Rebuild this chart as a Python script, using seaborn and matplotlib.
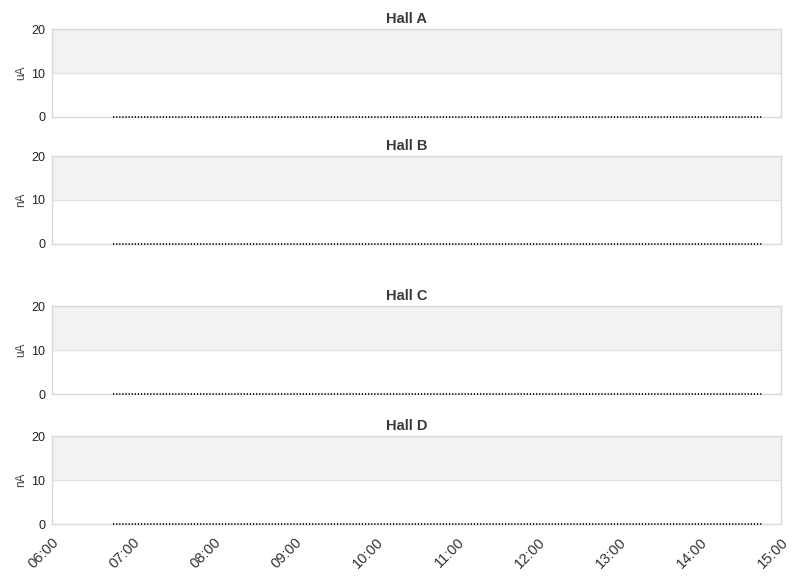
import matplotlib
matplotlib.use('Agg')
import matplotlib.pyplot as plt
import matplotlib.dates as mdates
import seaborn as sns
import pandas as pd

# Datos
halls = ['Hall A', 'Hall B', 'Hall C', 'Hall D']
units = ['uA', 'nA', 'uA', 'nA']
t_start = '2024-01-01 06:45'
t_end = '2024-01-01 14:46'
times = pd.date_range(t_start, t_end, freq='1min')
current = [0] * len(times)
y_ticks = [0, 10, 20]
x_min = pd.Timestamp('2024-01-01 06:00')
x_max = pd.Timestamp('2024-01-01 15:00')

sns.set_style('white')
plt.rcParams['font.family'] = ['Liberation Sans', 'DejaVu Sans']

fig = plt.figure(figsize=(8.11, 5.78), dpi=100)
bottoms = [0.7976, 0.5779, 0.3183, 0.0934]
df = pd.DataFrame({'time': times, 'value': current})

for i, (hall, unit) in enumerate(zip(halls, units)):
    ax = fig.add_axes([0.0641, bottoms[i], 0.899, 0.1522])
    ax.axhspan(10, 20, color='#f2f2f2', zorder=0)
    ax.axhline(10, color='#e0e0e0', lw=0.8, zorder=1)
    sns.lineplot(data=df, x='time', y='value', ax=ax, color='#1a1a1a',
                 lw=1.4, dashes=False, zorder=3, clip_on=False)
    ax.lines[-1].set_dashes((0.6, 1.0))
    ax.set_xlim(x_min, x_max)
    ax.set_ylim(0, 20)
    ax.set_yticks(y_ticks)
    ax.tick_params(axis='y', labelsize=9, colors='#222222', length=0, pad=5)
    ax.set_ylabel(unit, fontsize=8.5, color='#444444', labelpad=3)
    ax.set_xlabel('')
    ax.set_title(hall, fontsize=10.5, fontweight='bold', color='#3a3a3a',
                 pad=4, x=0.486)
    for s in ax.spines.values():
        s.set_color('#d8d8d8')
        s.set_linewidth(1)
    ax.xaxis.set_major_locator(mdates.HourLocator())
    ax.xaxis.set_major_formatter(mdates.DateFormatter('%H:%M'))
    if i < 3:
        ax.tick_params(axis='x', labelbottom=False, length=0)
    else:
        ax.tick_params(axis='x', labelsize=10.5, colors='#333333', length=0, pad=8)
        for lbl in ax.get_xticklabels():
            lbl.set_rotation(45)
            lbl.set_ha('right')
            lbl.set_rotation_mode('anchor')

fig.savefig('out.png', dpi=100)
